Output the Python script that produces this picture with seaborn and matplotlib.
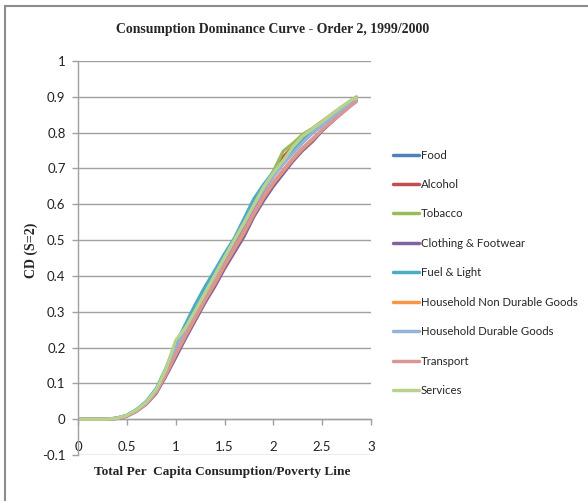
import matplotlib
matplotlib.use("Agg")
import matplotlib.pyplot as plt
import seaborn as sns
import pandas as pd
import numpy as np

# ---------------- data ----------------
x_vals = [0.0, 0.1, 0.2, 0.3, 0.4, 0.5, 0.6, 0.7, 0.8, 0.9, 1.0, 1.1, 1.2, 1.3, 1.4,
          1.5, 1.6, 1.7, 1.8, 1.9, 2.0, 2.1, 2.2, 2.3, 2.4, 2.5, 2.6, 2.7, 2.8, 2.85]

food = [0, 0, 0, 0, 0.003, 0.010, 0.025, 0.047, 0.080, 0.130, 0.190, 0.245, 0.295, 0.345, 0.395,
        0.445, 0.495, 0.545, 0.595, 0.640, 0.680, 0.715, 0.745, 0.775, 0.800, 0.822, 0.845, 0.865, 0.885, 0.895]
alcohol = [0, 0, 0, 0, 0.003, 0.010, 0.025, 0.047, 0.080, 0.130, 0.190, 0.243, 0.292, 0.342, 0.392,
           0.442, 0.492, 0.542, 0.592, 0.638, 0.680, 0.732, 0.760, 0.785, 0.805, 0.826, 0.848, 0.868, 0.888, 0.898]
tobacco = [0, 0, 0, 0, 0.003, 0.011, 0.026, 0.048, 0.082, 0.140, 0.212, 0.258, 0.305, 0.355, 0.405,
           0.452, 0.500, 0.550, 0.600, 0.650, 0.692, 0.748, 0.770, 0.795, 0.812, 0.832, 0.852, 0.872, 0.890, 0.900]
clothing = [0, 0, 0, 0, 0.002, 0.008, 0.022, 0.042, 0.072, 0.120, 0.172, 0.225, 0.275, 0.325, 0.370,
            0.420, 0.465, 0.510, 0.565, 0.610, 0.650, 0.685, 0.720, 0.750, 0.775, 0.805, 0.830, 0.855, 0.880, 0.890]
fuel = [0, 0, 0, 0, 0.003, 0.011, 0.027, 0.050, 0.085, 0.142, 0.210, 0.265, 0.320, 0.370, 0.415,
        0.462, 0.505, 0.560, 0.615, 0.655, 0.690, 0.720, 0.750, 0.778, 0.802, 0.824, 0.846, 0.866, 0.886, 0.895]
hh_nondurable = [0, 0, 0, 0, 0.002, 0.009, 0.023, 0.044, 0.076, 0.125, 0.180, 0.232, 0.282, 0.332, 0.378,
                 0.428, 0.474, 0.520, 0.572, 0.618, 0.658, 0.692, 0.725, 0.755, 0.780, 0.808, 0.832, 0.857, 0.880, 0.889]
hh_durable = [0, 0, 0, 0, 0.003, 0.010, 0.024, 0.046, 0.079, 0.132, 0.195, 0.250, 0.300, 0.350, 0.398,
              0.448, 0.497, 0.545, 0.595, 0.640, 0.678, 0.712, 0.742, 0.772, 0.798, 0.820, 0.843, 0.863, 0.884, 0.893]
transport = [0, 0, 0, 0, 0.002, 0.009, 0.023, 0.044, 0.076, 0.125, 0.182, 0.235, 0.285, 0.335, 0.382,
             0.432, 0.478, 0.525, 0.575, 0.622, 0.662, 0.696, 0.728, 0.758, 0.783, 0.808, 0.831, 0.853, 0.876, 0.886]
services = [0, 0, 0, 0, 0.003, 0.011, 0.026, 0.048, 0.082, 0.140, 0.220, 0.255, 0.303, 0.352, 0.402,
            0.452, 0.500, 0.548, 0.598, 0.648, 0.688, 0.722, 0.760, 0.790, 0.810, 0.830, 0.852, 0.872, 0.892, 0.897]

series_names = ["Food", "Alcohol", "Tobacco", "Clothing & Footwear", "Fuel & Light",
                "Household Non Durable Goods", "Household Durable Goods", "Transport", "Services"]
series_values = [food, alcohol, tobacco, clothing, fuel, hh_nondurable, hh_durable, transport, services]
series_colors = ["#4F81BD", "#C0504D", "#9BBB59", "#8064A2", "#4BACC6",
                 "#F79646", "#95B3D7", "#D99694", "#B9D38E"]

y_ticks = [-0.1, 0, 0.1, 0.2, 0.3, 0.4, 0.5, 0.6, 0.7, 0.8, 0.9, 1]
y_tick_labels = ["-0.1", "0", "0.1", "0.2", "0.3", "0.4", "0.5", "0.6", "0.7", "0.8", "0.9", "1"]
x_ticks = [0, 0.5, 1, 1.5, 2, 2.5, 3]
x_tick_labels = ["0", "0.5", "1", "1.5", "2", "2.5", "3"]

title = "Consumption Dominance Curve - Order 2, 1999/2000"
x_label = "Total Per  Capita Consumption/Poverty Line"
y_label = "CD (S=2)"

# ---------------- build long table ----------------
rows = []
for name, vals in zip(series_names, series_values):
    for xv, yv in zip(x_vals, vals):
        rows.append({"x": xv, "y": yv, "series": name})
df = pd.DataFrame(rows)

# ---------------- figure ----------------
sns.set_style("white")
plt.rcParams['font.family'] = ['Lato', 'DejaVu Sans']

fig = plt.figure(figsize=(5.88, 5.01), dpi=100)
ax = fig.add_axes([78/588, 1 - 455/501, (371-78)/588, (455-61)/501])

sns.lineplot(data=df, x="x", y="y", hue="series", hue_order=series_names,
             palette=series_colors, linewidth=2.3, ax=ax, legend=True, sort=False)

ax.set_xlim(0, 3)
ax.set_ylim(-0.1, 1)

# gridlines
for yt in y_ticks:
    ax.axhline(yt, color="#A0A0A0", linewidth=1.0, zorder=0)

ax.set_yticks(y_ticks)
ax.set_yticklabels(y_tick_labels)
ax.set_xticks(x_ticks)
ax.set_xticklabels(x_tick_labels)

for s in ["top", "right"]:
    ax.spines[s].set_visible(False)
ax.spines["left"].set_color("#A0A0A0")
ax.spines["left"].set_linewidth(1.0)
ax.spines["bottom"].set_position(("data", 0))
ax.spines["bottom"].set_color("#A0A0A0")
ax.spines["bottom"].set_linewidth(1.0)
ax.spines["bottom"].set_zorder(0)

ax.tick_params(axis="y", which="both", direction="out", length=4, width=1,
               color="#A0A0A0", labelsize=9.5, pad=5, left=True, labelcolor="#222222")
ax.tick_params(axis="x", which="both", direction="out", length=4, width=1,
               color="#A0A0A0", labelsize=9.5, pad=12, bottom=True, labelcolor="#222222")

ax.set_xlabel("")
ax.set_ylabel("")

fig.text(273/588, 1 - 30/501, title, ha="center", va="center",
         family="Liberation Serif", fontweight="bold", fontsize=9.9)
fig.text(222/588, 1 - 472/501, x_label, ha="center", va="center",
         family="Liberation Serif", fontweight="bold", fontsize=9.6)
fig.text(31/588, 1 - 250/501, y_label, ha="center", va="center", rotation=90,
         family="Liberation Serif", fontweight="bold", fontsize=10)

# legend
handles, labels = ax.get_legend_handles_labels()
leg = ax.legend(handles, labels, loc="upper left", bbox_to_anchor=(388/588, 1 - 145/501),
                bbox_transform=fig.transFigure, frameon=False, fontsize=8.2,
                handlelength=2.3, handletextpad=0.2, labelspacing=1.62, borderaxespad=0)
for line in leg.get_lines():
    line.set_linewidth(2.5)

# outer border (top & left visible)
fig.add_artist(plt.Line2D([4.5/588, 4.5/588], [0, 1 - 5.5/501], transform=fig.transFigure,
                          color="#8C8C8C", linewidth=1.5))
fig.add_artist(plt.Line2D([4.5/588, 1], [1 - 5.5/501, 1 - 5.5/501], transform=fig.transFigure,
                          color="#8C8C8C", linewidth=1.5))

fig.savefig("out.png", dpi=100)
